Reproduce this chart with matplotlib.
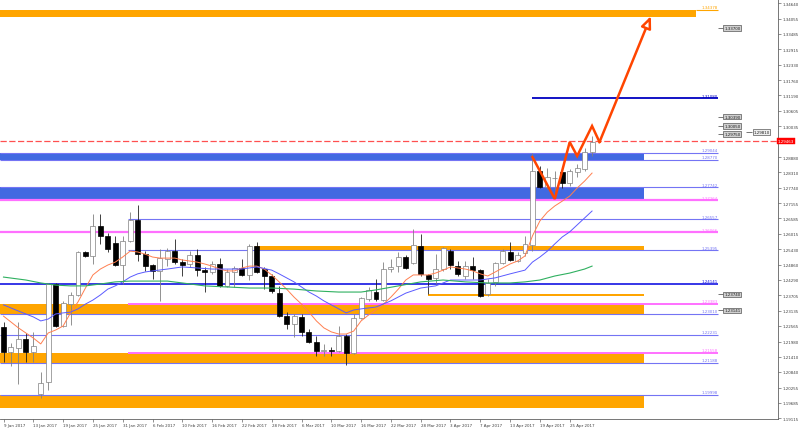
import matplotlib
matplotlib.use("Agg")
import matplotlib.pyplot as plt
import numpy as np

# daily candles, 9 Jan 2017 .. 28 Apr 2017
opens = [1.2252, 1.2159, 1.2174, 1.2207, 1.2159, 1.2002, 1.2047, 1.2413, 1.2256, 1.2338,
         1.2372, 1.2533, 1.2518, 1.2630, 1.2593, 1.2566, 1.2484, 1.2574, 1.2652, 1.2525,
         1.2484, 1.2462, 1.2507, 1.2536, 1.2495, 1.2488, 1.2522, 1.2465, 1.2458, 1.2488,
         1.2406, 1.2458, 1.2473, 1.2447, 1.2555, 1.2469, 1.2443, 1.2379, 1.2293, 1.2263,
         1.2290, 1.2234, 1.2196, 1.2163, 1.2166, 1.2163, 1.2219, 1.2155, 1.2286, 1.2357,
         1.2383, 1.2353, 1.2469, 1.2480, 1.2514, 1.2492, 1.2555, 1.2447, 1.2436, 1.2469,
         1.2536, 1.2480, 1.2443, 1.2480, 1.2465, 1.2376, 1.2421, 1.2492, 1.2533, 1.2499,
         1.2529, 1.2559, 1.2836, 1.2776, 1.2810, 1.2832, 1.2791, 1.2832, 1.2843, 1.2907]
highs = [1.2271, 1.2192, 1.2271, 1.2230, 1.2234, 1.2084, 1.2417, 1.2417, 1.2350, 1.2383,
         1.2536, 1.2536, 1.2675, 1.2675, 1.2604, 1.2593, 1.2593, 1.2682, 1.2709, 1.2536,
         1.2488, 1.2544, 1.2548, 1.2581, 1.2507, 1.2536, 1.2544, 1.2477, 1.2499, 1.2510,
         1.2469, 1.2480, 1.2507, 1.2563, 1.2570, 1.2477, 1.2451, 1.2406, 1.2308, 1.2301,
         1.2301, 1.2245, 1.2219, 1.2189, 1.2178, 1.2256, 1.2226, 1.2301, 1.2364, 1.2402,
         1.2432, 1.2495, 1.2507, 1.2533, 1.2522, 1.2619, 1.2600, 1.2451, 1.2525, 1.2552,
         1.2544, 1.2499, 1.2499, 1.2514, 1.2469, 1.2432, 1.2495, 1.2544, 1.2570, 1.2533,
         1.2593, 1.2903, 1.2854, 1.2847, 1.2836, 1.2836, 1.2843, 1.2862, 1.2922, 1.2967]
lows = [1.2121, 1.2106, 1.2039, 1.2121, 1.2121, 1.1987, 1.2017, 1.2252, 1.2252, 1.2260,
        1.2368, 1.2514, 1.2488, 1.2563, 1.2533, 1.2480, 1.2413, 1.2570, 1.2499, 1.2462,
        1.2432, 1.2350, 1.2480, 1.2488, 1.2443, 1.2477, 1.2443, 1.2383, 1.2451, 1.2402,
        1.2402, 1.2402, 1.2443, 1.2428, 1.2454, 1.2394, 1.2379, 1.2290, 1.2245, 1.2215,
        1.2219, 1.2192, 1.2144, 1.2144, 1.2144, 1.2159, 1.2110, 1.2151, 1.2282, 1.2350,
        1.2350, 1.2350, 1.2458, 1.2458, 1.2469, 1.2488, 1.2443, 1.2376, 1.2413, 1.2462,
        1.2469, 1.2443, 1.2432, 1.2432, 1.2364, 1.2368, 1.2406, 1.2488, 1.2499, 1.2495,
        1.2518, 1.2536, 1.2772, 1.2768, 1.2757, 1.2772, 1.2780, 1.2813, 1.2836, 1.2892]
closes = [1.2159, 1.2178, 1.2207, 1.2159, 1.2181, 1.2043, 1.2413, 1.2256, 1.2342, 1.2372,
          1.2533, 1.2518, 1.2630, 1.2593, 1.2544, 1.2484, 1.2574, 1.2652, 1.2525, 1.2480,
          1.2462, 1.2510, 1.2536, 1.2495, 1.2484, 1.2522, 1.2465, 1.2458, 1.2488, 1.2406,
          1.2458, 1.2473, 1.2447, 1.2555, 1.2458, 1.2443, 1.2387, 1.2293, 1.2263, 1.2293,
          1.2234, 1.2196, 1.2163, 1.2166, 1.2163, 1.2219, 1.2155, 1.2286, 1.2361, 1.2391,
          1.2357, 1.2469, 1.2477, 1.2514, 1.2473, 1.2559, 1.2451, 1.2432, 1.2469, 1.2548,
          1.2484, 1.2451, 1.2480, 1.2465, 1.2368, 1.2417, 1.2492, 1.2536, 1.2503, 1.2522,
          1.2563, 1.2836, 1.2776, 1.2813, 1.2810, 1.2791, 1.2836, 1.2847, 1.2907, 1.2946]

# moving averages
ma_fast = [1.2293, 1.2271, 1.2249, 1.2230, 1.2211, 1.2189, 1.2230, 1.2241, 1.2256, 1.2305,
           1.2346, 1.2398, 1.2447, 1.2469, 1.2484, 1.2495, 1.2514, 1.2536, 1.2533, 1.2525,
           1.2514, 1.2510, 1.2510, 1.2510, 1.2503, 1.2499, 1.2495, 1.2488, 1.2480, 1.2469,
           1.2462, 1.2462, 1.2473, 1.2480, 1.2480, 1.2469, 1.2447, 1.2421, 1.2394, 1.2364,
           1.2338, 1.2308, 1.2275, 1.2249, 1.2234, 1.2226, 1.2226, 1.2237, 1.2275, 1.2297,
           1.2316, 1.2338, 1.2364, 1.2394, 1.2428, 1.2447, 1.2447, 1.2447, 1.2454, 1.2465,
           1.2477, 1.2473, 1.2469, 1.2462, 1.2451, 1.2443, 1.2458, 1.2473, 1.2488, 1.2499,
           1.2518, 1.2593, 1.2649, 1.2682, 1.2705, 1.2723, 1.2742, 1.2772, 1.2798, 1.2828]
ma_mid_bars = [0, 2, 4, 5, 6, 7, 8, 9, 10, 11, 12, 13, 14, 15, 16, 17, 18, 19, 20,
               22, 24, 26, 28, 30, 32, 34, 36, 37, 38, 39, 40, 41, 42, 43, 44, 45, 46,
               47, 48, 50, 52, 54, 56, 58, 60, 62, 64, 66, 68, 70, 71, 72, 73, 74, 75,
               76, 77, 78, 79]
ma_mid = [1.2335, 1.2312, 1.2290, 1.2275, 1.2282, 1.2301, 1.2305, 1.2308, 1.2320, 1.2338,
          1.2353, 1.2372, 1.2394, 1.2406, 1.2421, 1.2439, 1.2451, 1.2458, 1.2462,
          1.2469, 1.2477, 1.2473, 1.2469, 1.2469, 1.2469, 1.2477, 1.2465,
          1.2451, 1.2436, 1.2421, 1.2402, 1.2383, 1.2368, 1.2350, 1.2335, 1.2320, 1.2305,
          1.2316, 1.2320, 1.2327, 1.2350, 1.2379, 1.2398, 1.2406, 1.2428, 1.2428, 1.2428,
          1.2436, 1.2451, 1.2465, 1.2495, 1.2514, 1.2536, 1.2563, 1.2589, 1.2608, 1.2634,
          1.2660, 1.2686]
ma_slow_bars = [0, 3, 5, 7, 9, 11, 13, 15, 17, 20, 22, 24, 27, 30, 33, 36, 39, 42, 45, 48,
                50, 53, 56, 59, 62, 65, 68, 70, 72, 74, 76, 78, 79]
ma_slow = [1.2439, 1.2428, 1.2417, 1.2409, 1.2406, 1.2406, 1.2413, 1.2421, 1.2424, 1.2424,
           1.2424, 1.2417, 1.2406, 1.2402, 1.2398, 1.2398, 1.2394, 1.2387, 1.2383, 1.2383,
           1.2391, 1.2406, 1.2421, 1.2428, 1.2421, 1.2417, 1.2417, 1.2421, 1.2428, 1.2443,
           1.2454, 1.2469, 1.2480]

date_labels = ["9 Jan 2017", "13 Jan 2017", "19 Jan 2017", "25 Jan 2017", "31 Jan 2017",
               "6 Feb 2017", "10 Feb 2017", "16 Feb 2017", "22 Feb 2017", "28 Feb 2017",
               "6 Mar 2017", "10 Mar 2017", "16 Mar 2017", "22 Mar 2017", "28 Mar 2017",
               "3 Apr 2017", "7 Apr 2017", "13 Apr 2017", "19 Apr 2017", "25 Apr 2017"]
price_ticks = [1.34640, 1.34055, 1.33485, 1.32915, 1.32330, 1.31760, 1.31190, 1.30605,
               1.30035, 1.28880, 1.28310, 1.27740, 1.27155, 1.26585, 1.26015, 1.25430,
               1.24860, 1.24290, 1.23705, 1.23135, 1.22565, 1.21980, 1.21410, 1.20840,
               1.20255, 1.19685, 1.19115]

# drawn levels
blue_levels = [1.29044, 1.28770, 1.27742, 1.23010, 1.22231, 1.21188, 1.19998]
blue_levels_late = [1.26557, 1.25395]
pink_levels = [1.27264, 1.26066]
pink_levels_late = [1.23383, 1.21558]
strong_level = 1.24141
target_level = 1.31080
top_level = 1.34378
orange_zones = [(1.34378, 1.34120), (1.25570, 1.25395), (1.23760, 1.23690),
                (1.23383, 1.23010), (1.21558, 1.21188), (1.19998, 1.19490)]
blue_zones = [(1.29044, 1.28770), (1.27742, 1.27264)]
price_marks = [1.33700, 1.30390, 1.30050, 1.29750, 1.23740, 1.23141]
price_mark_2 = 1.29810
last_price = 1.29463
zigzag_bars = [71, 74, 76, 77, 79, 80]
zigzag_prices = [1.2888, 1.2731, 1.2944, 1.2892, 1.3004, 1.2944]
arrow_tip = (86.9, 1.3415)

PERI = "#7474f4"
PINK = "#ff70ff"
ORANGE = "#ffa500"
ROYAL = "#4169e1"
FS = 2.9

fig = plt.figure(figsize=(8, 4.31), dpi=100)
ax = fig.add_axes([0, 11 / 431, 778 / 800, 420 / 431])
ax.set_xlim(-0.47, 103.96)
ax.set_ylim(1.19082, 1.34790)

x_end = 86.0     # right edge of zones
x_lab = 95.9     # right edge of level lines / labels
x_late = 16.7

# zones
zone_left = [-0.5, 33.8, 57.0, -0.5, -0.5, -0.5]
zone_right = [92.95, x_end, x_end, x_end, x_end, x_end]
for (top, bot), x0, x1 in zip(orange_zones, zone_left, zone_right):
    ax.fill_between([x0, x1], bot, top, color=ORANGE, lw=0, zorder=1)
for top, bot in blue_zones:
    ax.fill_between([-0.5, x_end], bot, top, color=ROYAL, lw=0, zorder=1)


def level(price, x0, color, lw):
    ax.hlines(price, x0, x_lab, color=color, lw=lw, zorder=2)
    ax.text(x_lab, price + 0.0002, f"{price:.5f}", color=color, fontsize=FS,
            ha="right", va="bottom", zorder=8)


for p in blue_levels:
    level(p, -0.5, PERI, 0.8)
for p in blue_levels_late:
    level(p, x_late, PERI, 0.8)
for p in pink_levels:
    level(p, -0.5, PINK, 1.6)
for p in pink_levels_late:
    level(p, x_late, PINK, 1.4)
level(strong_level, -0.5, "#0000e0", 1.1)
level(target_level, 70.9, "#0000c0", 1.3)
level(top_level, 92.95, ORANGE, 0.8)

# current price
ax.axhline(last_price, color="#ff5050", lw=0.9, dashes=(5, 2), zorder=2)
ax.text(1.0, last_price, f"{last_price:.5f}", transform=ax.get_yaxis_transform(),
        color="white", fontsize=FS, ha="left", va="center", clip_on=False, zorder=10,
        bbox=dict(boxstyle="square,pad=0.25", fc="#ff0000", ec="#ff0000", lw=0.3))

# price marks with boxes
box = dict(boxstyle="square,pad=0.2", fc="#d0d0d0", ec="#303030", lw=0.4)
for p in price_marks:
    ax.hlines(p, x_lab, 96.6, color="#404040", lw=0.5, zorder=8)
    ax.text(96.75, p, f"{p:.5f}", fontsize=FS, ha="left", va="center", color="#202020",
            bbox=box, zorder=9)
ax.hlines(price_mark_2, 99.7, 100.5, color="#404040", lw=0.5, zorder=8)
ax.text(100.65, price_mark_2, f"{price_mark_2:.5f}", fontsize=FS, ha="left", va="center",
        color="#202020", bbox=dict(boxstyle="square,pad=0.2", fc="#eeeeee", ec="#303030", lw=0.4),
        zorder=9)

# candles
bars = np.arange(len(opens))
o = np.array(opens)
c = np.array(closes)
up = c >= o
ax.vlines(bars[up], np.array(lows)[up], np.array(highs)[up], color="#808080", lw=0.6, zorder=4)
ax.vlines(bars[~up], np.array(lows)[~up], np.array(highs)[~up], color="#202020", lw=0.6, zorder=4)
body = np.maximum(np.abs(c - o), 0.00008)
ax.bar(bars[up], body[up], bottom=np.minimum(o, c)[up], width=0.66, color="white",
       edgecolor="#808080", lw=0.5, zorder=5)
ax.bar(bars[~up], body[~up], bottom=np.minimum(o, c)[~up], width=0.66, color="black",
       edgecolor="black", lw=0.5, zorder=5)

# moving averages
ax.plot(bars, ma_fast, color="#ff7f50", lw=0.7, zorder=6)
ax.plot(ma_mid_bars, ma_mid, color="#5a5aff", lw=0.7, zorder=6)
ax.plot(ma_slow_bars, ma_slow, color="#2fb060", lw=0.8, zorder=6)

# projected path
ax.plot(zigzag_bars, zigzag_prices, color="#ff4500", lw=1.8, zorder=7, solid_joinstyle="miter")
ax.annotate("", xy=arrow_tip, xytext=(zigzag_bars[-1], zigzag_prices[-1]),
            arrowprops=dict(arrowstyle="-|>,head_length=0.7,head_width=0.3",
                            color="#ff4500", fc="white", lw=1.8, shrinkA=0, shrinkB=0),
            zorder=7)

# axes
ax.yaxis.tick_right()
ax.set_yticks(price_ticks)
ax.set_yticklabels([f"{t:.5f}" for t in price_ticks])
ax.set_xticks(range(0, 80, 4))
ax.set_xticklabels(date_labels)
for lbl in ax.get_xticklabels():
    lbl.set_ha("left")
ax.tick_params(axis="y", length=2, width=0.4, pad=1.5, labelsize=FS, colors="#404040")
ax.tick_params(axis="x", length=2, width=0.4, pad=1, labelsize=FS, colors="#404040")
for side in ("left", "top"):
    ax.spines[side].set_visible(False)
for side in ("right", "bottom"):
    ax.spines[side].set_color("#606060")
    ax.spines[side].set_linewidth(0.6)

fig.savefig("out.png", dpi=100)
